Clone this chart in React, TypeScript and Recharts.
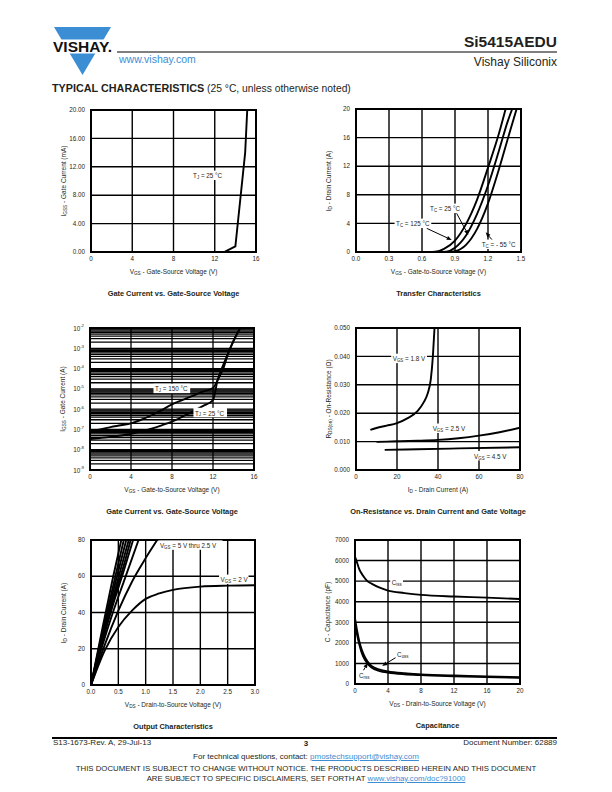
import React from "react";
import {
  LineChart,
  Line,
  XAxis,
  YAxis,
  CartesianGrid,
  ReferenceDot,
  ReferenceLine,
  ReferenceArea,
} from "recharts";

const FONT = '"Liberation Sans", Arial, Helvetica, sans-serif';
const INK = "#231f20";
const BLUE = "#3b8ed4";

type Pt = [number, number];
const toRows = (a: Pt[]) => a.map(([x, y]) => ({ x, y }));

// --- gate current vs VGS (mA) ---
const gateLinX = [0, 4, 8, 12, 16];
const gateLinY = [0, 4, 8, 12, 16, 20];
const gateLin25: Pt[] = [[0, 0], [12, 0], [13, 0.05], [14, 0.8], [14.95, 14], [15.15, 20]];

// --- transfer characteristics ---
const transferX = [0, 0.3, 0.6, 0.9, 1.2, 1.5];
const transferY = [0, 4, 8, 12, 16, 20];
const transfer125: Pt[] = [[0.65, 0], [0.72, 0.05], [0.8, 0.45], [0.9, 1.6], [1.0, 3.9], [1.1, 7.3], [1.2, 11.8], [1.3, 16.6], [1.36, 20]];
const transfer25: Pt[] = [[0.75, 0], [0.82, 0.05], [0.9, 0.6], [1.0, 2.3], [1.1, 5.3], [1.2, 9.3], [1.3, 14.2], [1.38, 18.3], [1.42, 20]];
const transferM55: Pt[] = [[0.84, 0], [0.9, 0.1], [1.0, 1.0], [1.1, 3.2], [1.2, 6.8], [1.3, 11.6], [1.4, 16.9], [1.46, 20]];

// --- gate current vs VGS (log, A) ---
const gateLogX = [0, 4, 8, 12, 16];
const gateLogDecades = [-9, -8, -7, -6, -5, -4, -3];
const gateLogY = [
  ...gateLogDecades.flatMap((d) => [1, 2, 3, 4, 5, 6, 7, 8, 9].map((k) => k * Math.pow(10, d))),
  1e-2,
];
const gateLog150: Pt[] = [[0, 8.4e-8], [1, 1.0e-7], [2, 1.3e-7], [3, 1.6e-7], [4, 2.0e-7], [5, 3.0e-7], [6, 5.0e-7], [7, 9.0e-7], [8, 1.7e-6], [9, 2.8e-6], [10, 4.5e-6], [11, 7.3e-6], [12, 1.1e-5], [12.5, 3e-5], [13, 1.0e-4], [13.5, 6e-4], [14, 2.3e-3], [14.65, 1e-2]];
const gateLog25: Pt[] = [[0, 3.4e-8], [1, 3.8e-8], [2, 4.3e-8], [3, 5.0e-8], [4, 6.0e-8], [5, 8.0e-8], [6, 1.1e-7], [7, 1.6e-7], [8, 2.4e-7], [9, 4.2e-7], [10, 7.5e-7], [11, 1.4e-6], [12, 2.8e-6], [12.45, 2.7e-5], [12.93, 1.25e-4], [13.5, 6e-4], [14, 2.3e-3], [14.65, 1e-2]];

// --- on-resistance vs drain current ---
const rdsX = [0, 20, 40, 60, 80];
const rdsY = [0, 0.01, 0.02, 0.03, 0.04, 0.05];
const rds18: Pt[] = [[7, 0.0141], [10, 0.0148], [15, 0.0156], [20, 0.0165], [25, 0.0182], [30, 0.0207], [33, 0.0238], [35, 0.027], [36.5, 0.032], [37.5, 0.04], [38.3, 0.05]];
const rds25: Pt[] = [[10, 0.0099], [20, 0.0101], [30, 0.0103], [40, 0.0106], [50, 0.0112], [60, 0.0121], [70, 0.0133], [80, 0.0149]];
const rds45: Pt[] = [[14, 0.0071], [30, 0.0073], [50, 0.0076], [80, 0.008]];

// --- output characteristics ---
const outX = [0, 0.5, 1, 1.5, 2, 2.5, 3];
const outY = [0, 20, 40, 60, 80];
const outFamily: Pt[][] = [
  [[0, 0], [0.2, 30], [0.4, 59], [0.555, 80]],
  [[0, 0], [0.2, 28], [0.4, 54], [0.6, 80]],
  [[0, 0], [0.2, 26.5], [0.4, 51], [0.645, 80]],
  [[0, 0], [0.2, 25], [0.4, 48], [0.69, 80]],
  [[0, 0], [0.2, 24], [0.4, 46], [0.6, 66], [0.725, 80]],
  [[0, 0], [0.2, 23], [0.4, 44], [0.6, 63], [0.77, 80]],
  [[0, 0], [0.2, 21], [0.4, 40], [0.6, 57], [0.87, 80]],
  [[0, 0], [0.25, 22], [0.5, 41], [0.75, 57], [1.0, 70], [1.21, 80]],
];
const out2V: Pt[] = [[0, 0], [0.25, 19], [0.5, 32], [0.75, 41], [1.0, 47.5], [1.25, 50.5], [1.5, 52.5], [2.0, 54.3], [2.5, 54.8], [3.0, 55]];

// --- capacitance ---
const capX = [0, 4, 8, 12, 16, 20];
const capY = [0, 1000, 2000, 3000, 4000, 5000, 6000, 7000];
const ciss: Pt[] = [[0, 6200], [0.25, 5900], [0.5, 5600], [1, 5250], [1.5, 5000], [2, 4880], [3, 4680], [4, 4540], [6, 4420], [8, 4330], [12, 4250], [16, 4200], [20, 4130]];
const coss: Pt[] = [[0, 3200], [0.25, 2600], [0.5, 2100], [0.75, 1750], [1, 1480], [1.5, 1100], [2, 880], [3, 700], [4, 610], [6, 520], [8, 470], [12, 410], [16, 370], [20, 330]];
const crss: Pt[] = [[0, 2950], [0.25, 2400], [0.5, 1950], [0.75, 1600], [1, 1330], [1.5, 1000], [2, 800], [3, 630], [4, 550], [6, 470], [8, 430], [12, 380], [16, 340], [20, 300]];

// layout of every panel (plot box)
const YW = 30;
const MT = 6;
const MR = 14;
const XH = 14;

const tickStyle = { fontSize: 6.3, fill: INK, fontFamily: FONT };
const axisLine = { stroke: "#000", strokeWidth: 2 };

function Rich({ s }: { s: string }) {
  const parts = s.split(/_\{([^}]*)\}/);
  return (
    <>
      {parts.map((p, i) =>
        i % 2 ? (
          <span key={i} style={{ fontSize: "0.72em", position: "relative", top: "0.3em" }}>
            {p}
          </span>
        ) : (
          <span key={i}>{p}</span>
        ),
      )}
    </>
  );
}

function SvgRich({ x, y, s, size }: { x: number; y: number; s: string; size: number }) {
  const parts = s.split(/_\{([^}]*)\}/);
  let low = false;
  return (
    <text x={x} y={y} fontSize={size} fontFamily={FONT} fill={INK} dominantBaseline="central">
      {parts.map((p, i) => {
        const sub = i % 2 === 1;
        if (!p) return null;
        const dy = sub ? (low ? 0 : size * 0.3) : low ? -size * 0.3 : 0;
        low = sub;
        return (
          <tspan key={i} fontSize={sub ? size * 0.7 : size} dy={dy}>
            {p}
          </tspan>
        );
      })}
    </text>
  );
}

function textWidth(s: string, size: number) {
  const parts = s.split(/_\{([^}]*)\}/);
  return parts.reduce((w, p, i) => w + p.length * (i % 2 ? 0.7 : 1) * size * 0.5, 0);
}

function noteShape(s: string, bg = true, size = 6.3) {
  return (p: any) => (
    <g>
      {bg && (
        <rect x={p.cx - 1.5} y={p.cy - size * 0.75} width={textWidth(s, size) + 3} height={size * 1.5} fill="#fff" />
      )}
      <SvgRich x={p.cx} y={p.cy} s={s} size={size} />
    </g>
  );
}

function arrowShape(head = true) {
  return (p: any) => {
    const { x1, y1, x2, y2 } = p;
    const a = Math.atan2(y2 - y1, x2 - x1);
    const L = 5;
    const W = 2;
    const bx = x2 - L * Math.cos(a);
    const by = y2 - L * Math.sin(a);
    const pts = `${x2},${y2} ${bx + W * Math.sin(a)},${by - W * Math.cos(a)} ${bx - W * Math.sin(a)},${by + W * Math.cos(a)}`;
    return (
      <g>
        <line x1={x1} y1={y1} x2={head ? bx : x2} y2={head ? by : y2} stroke="#000" strokeWidth={1} />
        {head && <polygon points={pts} fill="#000" />}
      </g>
    );
  };
}

const LogTick = (p: any) => {
  const v = p.payload.value;
  const lg = Math.log10(v);
  const e = Math.round(lg);
  if (Math.abs(lg - e) > 1e-6) return <g />;
  return (
    <text x={p.x} y={p.y} textAnchor="end" dominantBaseline="central" fontSize={6.3} fontFamily={FONT} fill={INK}>
      10
      <tspan fontSize={4.3} dy={-2.6}>
        {e}
      </tspan>
    </text>
  );
};

type TProps = {
  x: number;
  y: number;
  size: number;
  align?: "left" | "right" | "center";
  bold?: boolean;
  color?: string;
  children: React.ReactNode;
};

function T({ x, y, size, align = "left", bold, color = INK, children }: TProps) {
  const lh = size * 1.2;
  const style: React.CSSProperties = {
    position: "absolute",
    top: y - lh / 2,
    fontSize: size,
    lineHeight: `${lh}px`,
    fontWeight: bold ? "bold" : "normal",
    color,
    whiteSpace: "nowrap",
  };
  if (align === "left") style.left = x;
  else if (align === "right") style.right = 612 - x;
  else {
    style.left = x - 300;
    style.width = 600;
    style.textAlign = "center";
  }
  return <div style={style}>{children}</div>;
}

type PanelProps = {
  left: number;
  top: number;
  w: number;
  h: number;
  xTitle: string;
  yTitle: string;
  title: string;
  children: React.ReactNode;
};

function Panel({ left, top, w, h, xTitle, yTitle, title, children }: PanelProps) {
  return (
    <>
      <div style={{ position: "absolute", left: left - YW, top: top - MT }}>
        <LineChart width={w + YW + MR} height={h + MT + XH} margin={{ top: MT, right: MR, bottom: 0, left: 0 }}>
          {children}
        </LineChart>
      </div>
      <T x={left + w / 2} y={top + h + 19.5} size={6.5} align="center">
        <Rich s={xTitle} />
      </T>
      <div
        style={{
          position: "absolute",
          left: left - 27,
          top: top + h / 2,
          fontSize: 6.5,
          lineHeight: "8px",
          whiteSpace: "nowrap",
          transform: "translate(-50%, -50%) rotate(-90deg)",
        }}
      >
        <Rich s={yTitle} />
      </div>
      <T x={left + w / 2} y={top + h + 42} size={7.4} align="center" bold>
        {title}
      </T>
    </>
  );
}

const xBase = {
  type: "number" as const,
  dataKey: "x",
  height: XH,
  tickLine: false,
  axisLine,
  tick: tickStyle,
  tickSize: 3,
  tickMargin: 2,
  interval: 0 as const,
  allowDataOverflow: true,
};
const yBase = {
  type: "number" as const,
  width: YW,
  tickLine: false,
  axisLine,
  tick: tickStyle,
  tickSize: 3,
  tickMargin: 3,
  interval: 0 as const,
  allowDataOverflow: true,
};
const curve = { dataKey: "y", stroke: "#000", strokeWidth: 1.9, dot: false, activeDot: false };

function Header() {
  return (
    <>
      <svg width={612} height={100} style={{ position: "absolute", left: 0, top: 0 }}>
        <polygon points="54,27 111,27 82.5,75" fill={BLUE} />
        <rect x={51} y={39.5} width={63} height={14} fill="#fff" />
        <text x={82.5} y={52} textAnchor="middle" fontFamily={FONT} fontWeight="bold" fontSize={14} textLength={59} lengthAdjust="spacingAndGlyphs" fill="#111">
          VISHAY.
        </text>
        <line x1={117} x2={557} y1={52} y2={52} stroke="#000" strokeWidth={1} />
      </svg>
      <T x={557} y={42} size={15.5} align="right" bold>
        Si5415AEDU
      </T>
      <T x={557} y={62} size={12} align="right">
        Vishay Siliconix
      </T>
      <T x={119} y={59} size={10.5} color={BLUE}>
        www.vishay.com
      </T>
      <T x={52} y={88} size={10.3}>
        <b style={{ fontSize: 10.8 }}>TYPICAL CHARACTERISTICS</b> (25 °C, unless otherwise noted)
      </T>
    </>
  );
}

function Footer() {
  const link = { color: BLUE, textDecoration: "underline" };
  return (
    <>
      <div style={{ position: "absolute", left: 52, top: 737, width: 505, height: 1.5, background: "#000" }} />
      <T x={53} y={743} size={8}>
        S13-1673-Rev. A, 29-Jul-13
      </T>
      <T x={306} y={744} size={8} align="center" bold>
        3
      </T>
      <T x={557} y={743} size={8} align="right">
        Document Number: 62889
      </T>
      <T x={306} y={756.5} size={8} align="center">
        For technical questions, contact: <span style={link}>pmostechsupport@vishay.com</span>
      </T>
      <T x={306} y={769} size={7.8} align="center">
        THIS DOCUMENT IS SUBJECT TO CHANGE WITHOUT NOTICE. THE PRODUCTS DESCRIBED HEREIN AND THIS DOCUMENT
      </T>
      <T x={306} y={778.5} size={7.8} align="center">
        ARE SUBJECT TO SPECIFIC DISCLAIMERS, SET FORTH AT <span style={link}>www.vishay.com/doc?91000</span>
      </T>
    </>
  );
}

export default function App() {
  return (
    <div
      style={{
        position: "absolute",
        left: 0,
        top: 0,
        width: 612,
        height: 792,
        background: "#fff",
        fontFamily: FONT,
        color: INK,
        overflow: "hidden",
      }}
    >
      <Header />

      <Panel left={91} top={110} w={165} h={142} xTitle="V_{GS} - Gate-Source Voltage (V)" yTitle="I_{GSS} - Gate Current (mA)" title="Gate Current vs. Gate-Source Voltage">
        <CartesianGrid stroke="#000" strokeWidth={1.4} />
        <XAxis {...xBase} domain={[0, 16]} ticks={gateLinX} />
        <YAxis {...yBase} domain={[0, 20]} ticks={gateLinY} tickFormatter={(v: number) => v.toFixed(2)} />
        <ReferenceArea x1={0} x2={16} y1={0} y2={20} fill="none" stroke="#000" strokeWidth={2} ifOverflow="visible" />
        <Line {...curve} type="linear" data={toRows(gateLin25)} isAnimationActive={false} />
        <ReferenceDot x={9.9} y={10.8} r={0} ifOverflow="visible" shape={noteShape("T_{J} = 25 °C")} />
      </Panel>

      <Panel left={356} top={109} w={165} h={143} xTitle="V_{GS} - Gate-to-Source Voltage (V)" yTitle="I_{D} - Drain Current (A)" title="Transfer Characteristics">
        <CartesianGrid stroke="#000" strokeWidth={1.4} />
        <XAxis {...xBase} domain={[0, 1.5]} ticks={transferX} tickFormatter={(v: number) => v.toFixed(1)} />
        <YAxis {...yBase} domain={[0, 20]} ticks={transferY} />
        <ReferenceArea x1={0} x2={1.5} y1={0} y2={20} fill="none" stroke="#000" strokeWidth={2} ifOverflow="visible" />
        <Line {...curve} type="monotone" data={toRows(transfer125)} isAnimationActive={false} />
        <Line {...curve} type="monotone" data={toRows(transfer25)} isAnimationActive={false} />
        <Line {...curve} type="monotone" data={toRows(transferM55)} isAnimationActive={false} />
        <ReferenceLine segment={[{ x: 0.915, y: 5.41 }, { x: 1.021, y: 2.38 }]} ifOverflow="visible" shape={arrowShape()} />
        <ReferenceLine segment={[{ x: 0.643, y: 3.31 }, { x: 0.87, y: 1.68 }]} ifOverflow="visible" shape={arrowShape()} />
        <ReferenceLine segment={[{ x: 0.305, y: 4.0 }, { x: 0.36, y: 4.0 }]} ifOverflow="visible" shape={arrowShape(false)} />
        <ReferenceLine segment={[{ x: 1.264, y: 1.22 }, { x: 1.179, y: 2.75 }]} ifOverflow="visible" shape={arrowShape()} />
        <ReferenceDot x={0.673} y={6.11} r={0} ifOverflow="visible" shape={noteShape("T_{C} = 25 °C")} />
        <ReferenceDot x={0.364} y={4.01} r={0} ifOverflow="visible" shape={noteShape("T_{C} = 125 °C")} />
        <ReferenceDot x={1.143} y={1.08} r={0} ifOverflow="visible" shape={noteShape("T_{C} = - 55 °C")} />
      </Panel>

      <Panel left={90} top={328} w={164} h={142} xTitle="V_{GS} - Gate-to-Source Voltage (V)" yTitle="I_{GSS} - Gate Current (A)" title="Gate Current vs. Gate-Source Voltage">
        <CartesianGrid stroke="#000" strokeWidth={1.3} />
        <XAxis {...xBase} domain={[0, 16]} ticks={gateLogX} />
        <YAxis {...yBase} scale="log" domain={[1e-9, 1e-2]} ticks={gateLogY} tick={<LogTick />} />
        <ReferenceArea x1={0} x2={16} y1={1e-9} y2={1e-2} fill="none" stroke="#000" strokeWidth={2} ifOverflow="visible" />
        <Line {...curve} type="monotone" data={toRows(gateLog150)} isAnimationActive={false} />
        <Line {...curve} type="monotone" data={toRows(gateLog25)} isAnimationActive={false} />
        <ReferenceDot x={6.34} y={1.05e-5} r={0} ifOverflow="visible" shape={noteShape("T_{J} = 150 °C")} />
        <ReferenceDot x={10.24} y={6.8e-7} r={0} ifOverflow="visible" shape={noteShape("T_{J} = 25 °C")} />
      </Panel>

      <Panel left={356} top={328} w={164} h={142} xTitle="I_{D} - Drain Current (A)" yTitle="R_{DS(on)} - On-Resistance (Ω)" title="On-Resistance vs. Drain Current and Gate Voltage">
        <CartesianGrid stroke="#000" strokeWidth={1.4} />
        <XAxis {...xBase} domain={[0, 80]} ticks={rdsX} />
        <YAxis {...yBase} domain={[0, 0.05]} ticks={rdsY} tickFormatter={(v: number) => v.toFixed(3)} />
        <ReferenceArea x1={0} x2={80} y1={0} y2={0.05} fill="none" stroke="#000" strokeWidth={2} ifOverflow="visible" />
        <Line {...curve} type="monotone" data={toRows(rds18)} isAnimationActive={false} />
        <Line {...curve} type="monotone" data={toRows(rds25)} isAnimationActive={false} />
        <Line {...curve} type="monotone" data={toRows(rds45)} isAnimationActive={false} />
        <ReferenceDot x={17.9} y={0.0393} r={0} ifOverflow="visible" shape={noteShape("V_{GS} = 1.8 V")} />
        <ReferenceDot x={37.4} y={0.0147} r={0} ifOverflow="visible" shape={noteShape("V_{GS} = 2.5 V")} />
        <ReferenceDot x={57.6} y={0.00504} r={0} ifOverflow="visible" shape={noteShape("V_{GS} = 4.5 V")} />
      </Panel>

      <Panel left={91} top={540} w={164} h={145} xTitle="V_{DS} - Drain-to-Source Voltage (V)" yTitle="I_{D} - Drain Current (A)" title="Output Characteristics">
        <CartesianGrid stroke="#000" strokeWidth={1.4} />
        <XAxis {...xBase} domain={[0, 3]} ticks={outX} tickFormatter={(v: number) => v.toFixed(1)} />
        <YAxis {...yBase} domain={[0, 80]} ticks={outY} />
        <ReferenceArea x1={0} x2={3} y1={0} y2={80} fill="none" stroke="#000" strokeWidth={2} ifOverflow="visible" />
        {outFamily.map((s, i) => (
          <Line key={i} {...curve} type="monotone" data={toRows(s)} isAnimationActive={false} />
        ))}
        <Line {...curve} type="monotone" data={toRows(out2V)} isAnimationActive={false} />
        <ReferenceDot x={1.26} y={77.2} r={0} ifOverflow="visible" shape={noteShape("V_{GS} = 5 V thru 2.5 V")} />
        <ReferenceDot x={2.37} y={58.3} r={0} ifOverflow="visible" shape={noteShape("V_{GS} = 2 V")} />
      </Panel>

      <Panel left={355} top={540} w={165} h={144} xTitle="V_{DS} - Drain-to-Source Voltage (V)" yTitle="C - Capacitance (pF)" title="Capacitance">
        <CartesianGrid stroke="#000" strokeWidth={1.4} />
        <XAxis {...xBase} domain={[0, 20]} ticks={capX} />
        <YAxis {...yBase} domain={[0, 7000]} ticks={capY} />
        <ReferenceArea x1={0} x2={20} y1={0} y2={7000} fill="none" stroke="#000" strokeWidth={2} ifOverflow="visible" />
        <Line {...curve} type="monotone" data={toRows(ciss)} isAnimationActive={false} />
        <Line {...curve} type="monotone" data={toRows(coss)} isAnimationActive={false} />
        <Line {...curve} type="monotone" data={toRows(crss)} isAnimationActive={false} />
        <ReferenceLine segment={[{ x: 5.0, y: 1300 }, { x: 3.3, y: 880 }]} ifOverflow="visible" shape={arrowShape()} />
        <ReferenceLine segment={[{ x: 0.93, y: 600 }, { x: 1.55, y: 1020 }]} ifOverflow="visible" shape={arrowShape()} />
        <ReferenceDot x={4.45} y={4970} r={0} ifOverflow="visible" shape={noteShape("C_{iss}")} />
        <ReferenceDot x={5.1} y={1440} r={0} ifOverflow="visible" shape={noteShape("C_{oss}")} />
        <ReferenceDot x={0.48} y={437} r={0} ifOverflow="visible" shape={noteShape("C_{rss}")} />
      </Panel>

      <Footer />
    </div>
  );
}
